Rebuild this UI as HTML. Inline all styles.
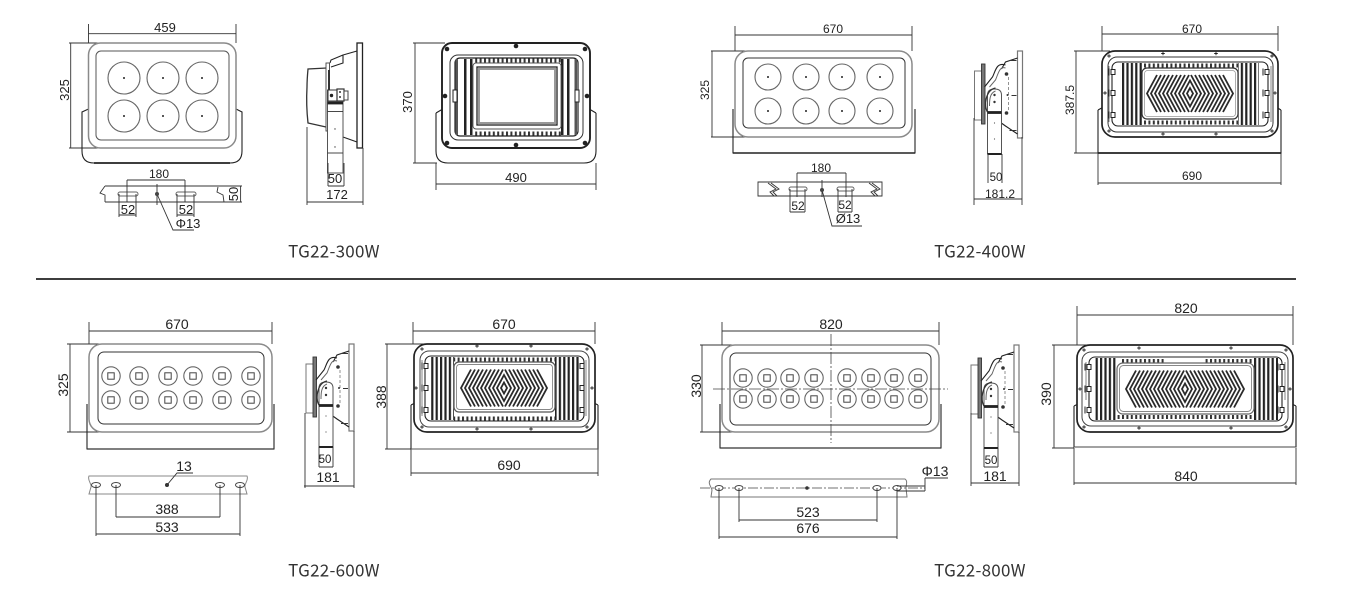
<!DOCTYPE html>
<html><head><meta charset="utf-8"><style>
html,body{margin:0;padding:0;background:#fff;width:1354px;height:608px;overflow:hidden}
svg{display:block}
text{font-family:"Liberation Sans",sans-serif;fill:#222;text-anchor:middle}
.l{font-family:"Noto Sans CJK SC","Liberation Sans",sans-serif;font-size:17px;letter-spacing:.25px;fill:#333}
.d{stroke:#333;stroke-width:.9;fill:none}
.g{stroke:#8a8a8a;stroke-width:1.5;fill:none}
.k{stroke:#222;stroke-width:1.1;fill:none}
.b{stroke:#222;stroke-width:1.9;fill:none}
.c{stroke:#666;stroke-width:1.1;fill:#fff}
.w{stroke:#555;stroke-width:1;fill:#fff}
.s13{font-size:13px}.s14{font-size:14px}.s12{font-size:12px}.s11{font-size:11.5px}
</style></head><body>
<svg width="1354" height="608" viewBox="0 0 1354 608" xmlns="http://www.w3.org/2000/svg">
<defs>
<pattern id="fin" width="4.4" height="10" patternUnits="userSpaceOnUse"><rect width="2.2" height="10" fill="#222"/></pattern>
<pattern id="tick" width="4.4" height="10" patternUnits="userSpaceOnUse"><rect width="2" height="10" fill="#333"/></pattern>
<g id="chv" fill="none" stroke="#2a2a2a" stroke-width="1.800">
<path d="M0-5.500L3 0 0 5.500-3 0Z M0-13L7 0 0 13-7 0Z"/>
<path d="M1-18.500L11 0 1 18.500M5-18.500L15 0 5 18.500M9-18.500L19 0 9 18.500M13-18.500L23 0 13 18.500M17-18.500L27 0 17 18.500M21-18.500L31 0 21 18.500M25-18.500L35 0 25 18.500M29-18.500L39 0 29 18.500M33-18.500L43 0 33 18.500"/>
<path d="M-1-18.500L-11 0-1 18.500M-5-18.500L-15 0-5 18.500M-9-18.500L-19 0-9 18.500M-13-18.500L-23 0-13 18.500M-17-18.500L-27 0-17 18.500M-21-18.500L-31 0-21 18.500M-25-18.500L-35 0-25 18.500M-29-18.500L-39 0-29 18.500M-33-18.500L-43 0-33 18.500"/>
</g>
<g id="chx" fill="none" stroke="#2a2a2a" stroke-width="1.800">
<path d="M37-18.500L47 0 37 18.500M41-18.500L51 0 41 18.500M45-18.500L55 0 45 18.500M49-18.500L59 0 49 18.500M-37-18.500L-47 0-37 18.500M-41-18.500L-51 0-41 18.500M-45-18.500L-55 0-45 18.500M-49-18.500L-59 0-49 18.500"/>
</g>
<g id="dot"><circle r="1" fill="#222"/></g>
<g id="pl"><path d="M-1.800 0H1.800M0-1.800V1.800" stroke="#222" stroke-width=".9"/></g>
<g id="sq"><rect x="-2" y="-2.500" width="4" height="5" fill="#fff" stroke="#222" stroke-width="1"/><path d="M-4-3.500V3.500" stroke="#222" stroke-width="1"/></g>
<g id="cs"><circle r="9.200" class="c"/><rect x="-3.200" y="-3.200" width="6.400" height="6.400" fill="#fff" stroke="#444" stroke-width="1"/></g>
<g id="side">
<rect x="0" y="0" width="5" height="87" fill="#fff" stroke="#777" stroke-width="1.200"/>
<path class="k" d="M0 7L-12 11-16 18M0 83L-12 75-19 70"/>
<path d="M-9 26V60" stroke="#777" stroke-width=".8" stroke-dasharray="3 2" fill="none"/>
<path class="d" d="M-1 9.500H-8M-1 79.500H-8M-1 44.500H-6"/>
<circle cx="-11" cy="23" r="1.800" fill="#333"/><circle cx="-11" cy="62" r="1.800" fill="#333"/><circle cx="-10" cy="44" r="1" fill="#333"/>
<path d="M-36 20H-43V69H-36" fill="#fff" stroke="#777" stroke-width="1"/>
<rect x="-36" y="13" width="3.500" height="60" fill="#777" stroke="#333" stroke-width=".9"/>
<path d="M-12 14C-21 11-22 20-25 26L-33 36" class="k"/>
<path d="M-12 17C-18 15-19 22-22 29L-28 36" stroke="#666" stroke-width="1" fill="none"/>
<path d="M-30 60V44Q-30 38-23 38Q-16 38-16 44V103H-30Z" fill="#fff" stroke="#555" stroke-width="1"/>
<path d="M-22 37C-32 39-34 55-30 61" stroke="#333" stroke-width="1.300" fill="none"/>
<path d="M-22 40C-28 42-28 50-28 55" stroke="#666" stroke-width="1" fill="none"/>
<path d="M-30 61.500H-16" stroke="#222" stroke-width="2.800"/>
<path d="M-30 103H-16" stroke="#222" stroke-width="2"/>
<circle cx="-23" cy="44" r="1.200" fill="#333"/><circle cx="-23" cy="51" r="1.200" fill="#333"/>
<circle cx="-23" cy="72" r=".6" fill="#555"/><circle cx="-23" cy="88" r=".6" fill="#555"/>
</g>
</defs>
<rect width="1354" height="608" fill="#fff"/>

<!-- divider -->
<path d="M36 279H1296" stroke="#222" stroke-width="1.800"/>
<text class="l" x="334" y="257.500">TG22-300W</text>
<text class="l" x="980" y="257.500">TG22-400W</text>
<text class="l" x="334" y="576.500">TG22-600W</text>
<text class="l" x="980" y="576.500">TG22-800W</text>

<!-- ===== 300W front ===== -->
<path class="d" d="M88.500 24V43M236 24V43M88.500 33.700H236M70.700 43V148M69 43H100M69 148H100"/>
<text class="s13" x="165" y="32">459</text>
<text class="s13" transform="translate(69,90) rotate(-90)">325</text>
<path d="M88.500 109L82 112V151Q82 163 94 163H230Q242 163 242 151V112L236 109" class="k"/>
<path d="M94 163H230" stroke="#222" stroke-width="1.800"/>
<rect x="88.500" y="43" width="147.500" height="105" rx="12" fill="#fff" stroke="#8a8a8a" stroke-width="1.500"/>
<rect x="96" y="51" width="133" height="89" rx="5" class="w" stroke="#333"/>
<g class="c"><circle cx="124" cy="78" r="16"/><circle cx="163" cy="78" r="16"/><circle cx="202" cy="78" r="16"/><circle cx="124" cy="116" r="16"/><circle cx="163" cy="116" r="16"/><circle cx="202" cy="116" r="16"/></g>
<use href="#dot" x="124" y="78"/><use href="#dot" x="163" y="78"/><use href="#dot" x="202" y="78"/><use href="#dot" x="124" y="116"/><use href="#dot" x="163" y="116"/><use href="#dot" x="202" y="116"/>
<!-- 300W mount -->
<path class="d" d="M105 186H242M105 202H242M240.600 186V202M105 186L100 193 105 195V202M218 187L217 192 223 195 224 202"/>
<rect x="118" y="192" width="20" height="4" rx="2" fill="#fff" stroke="#666" stroke-width="1"/>
<rect x="176" y="192" width="20" height="4" rx="2" fill="#fff" stroke="#666" stroke-width="1"/>
<path class="d" d="M119 194V217M136 194V217M119 215H136M177 194V217M194 194V217M177 215H194M127 180V202M185 180V202M127 180H185M157 184V205M157 194L173 230H194"/>
<circle cx="157" cy="194" r="2" fill="#444"/>
<text class="s12" x="159" y="178">180</text>
<text class="s13" x="128" y="214">52</text><text class="s13" x="186" y="214">52</text>
<text class="s13" transform="translate(238,194) rotate(-90)">50</text>
<text class="s13" x="188" y="228">Φ13</text>
<!-- 300W side -->
<rect x="357" y="43" width="5.500" height="105" fill="#fff" stroke="#222" stroke-width="1.300"/>
<path class="k" d="M357 51L343 55V63L331 67M343 55L331 60 330 63M357 142L343 137V130"/>
<path d="M327 68L308 69Q307 80 307 87Q306 105 308 123L326 127" fill="#fff" stroke="#333" stroke-width="1.300"/>
<rect x="326" y="63" width="3.500" height="68" fill="#fff" stroke="#444" stroke-width=".9"/>
<rect x="328" y="70" width="2" height="26" fill="#333"/>
<rect x="327.500" y="90" width="15.500" height="83" fill="#fff" stroke="#555" stroke-width="1"/>
<path d="M327.500 103H343" stroke="#222" stroke-width="2.800"/>
<path d="M327.500 111.500H343" stroke="#333" stroke-width=".9"/>
<path d="M327.500 153H343" stroke="#333" stroke-width=".9"/>
<rect x="328" y="90" width="11" height="11" fill="#fff" stroke="#333" stroke-width="1"/><circle cx="331.500" cy="95.500" r="1.700" fill="#222"/>
<rect x="337" y="89" width="7" height="12" fill="#fff" stroke="#333" stroke-width="1.200"/><circle cx="340" cy="92" r="1" fill="#333"/><circle cx="340" cy="97" r="1" fill="#333"/>
<rect x="344" y="91" width="4" height="9" fill="#fff" stroke="#444" stroke-width="1"/>
<circle cx="335" cy="129" r=".7" fill="#444"/><circle cx="335" cy="147" r=".7" fill="#444"/>
<path class="d" d="M328 163V186M344 163V186M328 186H344M307 127V205M363 148V205M307 202H363"/>
<text class="s13" x="335" y="183">50</text><text class="s13" x="337" y="199">172</text>
<!-- 300W back -->
<path class="d" d="M415 43V163M413 43H445M413 163H437M436 163V190M596 163V190M436 184H596"/>
<text class="s13" transform="translate(412,102) rotate(-90)">370</text>
<text class="s13" x="516" y="182">490</text>
<path d="M436 113L453 103M596 113L579 103" class="k"/>
<path d="M436 113V151Q436 163 448 163H584Q596 163 596 151V113" class="k"/>
<rect x="442" y="43" width="148" height="105" rx="10" fill="#fff" stroke="#222" stroke-width="1.900"/>
<rect x="450" y="55" width="133" height="85" rx="8" fill="#fff" stroke="#333" stroke-width="1"/>
<rect x="455" y="58" width="123" height="78" rx="5" fill="#fff" stroke="#222" stroke-width="1.200"/>
<rect x="455.500" y="59" width="2.500" height="76" fill="#555"/><rect x="574.500" y="59" width="2.500" height="76" fill="#555"/>
<rect x="464" y="59" width="2.500" height="76" fill="#222"/><rect x="470" y="59" width="2.500" height="76" fill="#222"/>
<rect x="561" y="59" width="2.500" height="76" fill="#222"/><rect x="567" y="59" width="2.500" height="76" fill="#222"/>
<rect x="473" y="58.500" width="88" height="4" fill="url(#tick)"/><rect x="473" y="131.500" width="88" height="4" fill="url(#tick)"/>
<rect x="473" y="63" width="88" height="66" rx="3" fill="#fff" stroke="#555" stroke-width=".9"/>
<rect x="477" y="67" width="80" height="58" fill="#fff" stroke="#222" stroke-width="1.300"/>
<rect x="479" y="69" width="76" height="54" fill="none" stroke="#999" stroke-width="2"/>
<g fill="#222"><circle cx="447" cy="49" r="2.300"/><circle cx="516" cy="46" r="2.300"/><circle cx="585" cy="49" r="2.300"/><circle cx="445" cy="96" r="2.300"/><circle cx="587" cy="96" r="2.300"/><circle cx="447" cy="143" r="2.300"/><circle cx="516" cy="145" r="2.300"/><circle cx="585" cy="143" r="2.300"/></g>
<rect x="453" y="90" width="4" height="12" fill="#fff" stroke="#222" stroke-width="1"/><rect x="575" y="90" width="4" height="12" fill="#fff" stroke="#222" stroke-width="1"/>

<!-- ===== 400W front ===== -->
<path class="d" d="M735 26V51M912 26V51M735 35H912M712 51V137M711 51H745M711 137H745"/>
<text class="s12" x="833" y="33">670</text>
<text class="s12" transform="translate(709,90) rotate(-90)">325</text>
<path d="M733 109V153H915V109" class="k"/><path d="M733 153H915" stroke="#222" stroke-width="1.500"/>
<rect x="735" y="51" width="177" height="86" rx="13" fill="#fff" stroke="#8a8a8a" stroke-width="1.500"/>
<rect x="743" y="58" width="162" height="70" rx="5" fill="#fff" stroke="#333" stroke-width="1"/>
<g class="c"><circle cx="768" cy="77" r="13"/><circle cx="806" cy="77" r="13"/><circle cx="842" cy="77" r="13"/><circle cx="880" cy="77" r="13"/><circle cx="768" cy="111" r="13"/><circle cx="806" cy="111" r="13"/><circle cx="842" cy="111" r="13"/><circle cx="880" cy="111" r="13"/></g>
<use href="#dot" x="768" y="77"/><use href="#dot" x="806" y="77"/><use href="#dot" x="842" y="77"/><use href="#dot" x="880" y="77"/><use href="#dot" x="768" y="111"/><use href="#dot" x="806" y="111"/><use href="#dot" x="842" y="111"/><use href="#dot" x="880" y="111"/>
<!-- 400W mount -->
<path class="d" d="M758 182H882V196H758ZM768 183L776 189 770 192 774 196M771 183L779 189 773 192 777 196M869 183L877 189 871 192 875 196M872 183L880 189 874 192 878 196"/>
<rect x="789" y="187" width="18" height="4" rx="2" fill="#fff" stroke="#666" stroke-width="1"/>
<rect x="837" y="187" width="17" height="4" rx="2" fill="#fff" stroke="#666" stroke-width="1"/>
<path class="d" d="M790 189V212M805 189V212M790 212H805M838 189V212M852 189V212M838 212H852M797 173V197M846 173V197M797 173H846M822 180V197M822 190L832 226H862"/>
<circle cx="822" cy="190" r="2" fill="#444"/>
<text class="s12" x="821" y="172">180</text><text class="s12" x="798" y="210">52</text><text class="s12" x="845" y="209">52</text>
<text class="s13" x="848" y="223">Ø13</text>
<!-- 400W side -->
<use href="#side" transform="translate(1017.500,51)"/>
<path class="d" d="M988 154V183M1002 154V183M974 118V205M1022 137V205M974 199H1022"/>
<text class="s11" x="996" y="181">50</text><text class="s12" x="1000" y="198">181.2</text>
<!-- 400W back -->
<path class="d" d="M1102 26V51M1278 26V51M1102 34H1278M1076 51V153M1074 51H1110M1074 153H1098M1098 153V185M1281 153V185M1098 183H1281"/>
<text class="s12" x="1192" y="33">670</text><text class="s12" x="1192" y="180">690</text>
<text class="s12" transform="translate(1074,100) rotate(-90)">387.5</text>
<path d="M1098 110V153H1281V110" class="k"/><path d="M1109 104L1098 110M1271 104L1281 110" class="k"/>
<path d="M1098 153H1281" stroke="#222" stroke-width="1.800"/>
<rect x="1102" y="51" width="176" height="86" rx="13" fill="#fff" stroke="#222" stroke-width="1.700"/>
<rect x="1108" y="57" width="165" height="75" rx="9" fill="#fff" stroke="#333" stroke-width="1"/>
<rect x="1112" y="62" width="156" height="64" rx="6" fill="#fff" stroke="#222" stroke-width="1.100"/>
<rect x="1120" y="63" width="22" height="62" fill="url(#fin)"/><rect x="1238" y="63" width="21" height="62" fill="url(#fin)"/>
<rect x="1142" y="63.500" width="96" height="4" fill="url(#tick)"/><rect x="1142" y="120.500" width="96" height="4" fill="url(#tick)"/>
<rect x="1142" y="68" width="96" height="51" rx="5" fill="#fff" stroke="#333" stroke-width="1.200"/>
<rect x="1144.500" y="70.500" width="91" height="46" rx="3" fill="#fff" stroke="#999" stroke-width=".8"/>
<use href="#chv" transform="translate(1190,93.500)"/>
<path d="M1109 66V122M1271 66V122" stroke="#666" stroke-width=".8"/>
<use href="#sq" x="1113" y="72"/><use href="#sq" x="1113" y="93"/><use href="#sq" x="1113" y="115"/><use href="#sq" x="1267" y="72"/><use href="#sq" x="1267" y="93"/><use href="#sq" x="1267" y="115"/>
<use href="#pl" x="1109" y="56"/><use href="#pl" x="1163" y="53.500"/><use href="#pl" x="1216" y="53.500"/><use href="#pl" x="1272" y="56"/><use href="#pl" x="1109" y="131"/><use href="#pl" x="1163" y="134"/><use href="#pl" x="1216" y="134"/><use href="#pl" x="1272" y="131"/><use href="#pl" x="1105" y="93"/><use href="#pl" x="1275" y="93"/>

<!-- ===== 600W front ===== -->
<path class="d" d="M89 322V344M272 322V344M89 331H272M70 344V432M67 344H100M67 432H100"/>
<text class="s14" x="177" y="329">670</text>
<text class="s14" transform="translate(68,385) rotate(-90)">325</text>
<path d="M87 404V449H274V404" class="k"/>
<path d="M87 449H274" stroke="#333" stroke-width="1.300"/>
<rect x="89" y="344" width="183" height="88" rx="13" fill="#fff" stroke="#8a8a8a" stroke-width="1.500"/>
<rect x="98" y="352" width="166" height="72" rx="6" fill="#fff" stroke="#333" stroke-width="1"/>
<use href="#cs" x="111" y="376"/><use href="#cs" x="139" y="376"/><use href="#cs" x="168" y="376"/><use href="#cs" x="193" y="376"/><use href="#cs" x="222" y="376"/><use href="#cs" x="251" y="376"/>
<use href="#cs" x="111" y="400"/><use href="#cs" x="139" y="400"/><use href="#cs" x="168" y="400"/><use href="#cs" x="193" y="400"/><use href="#cs" x="222" y="400"/><use href="#cs" x="251" y="400"/>
<!-- 600W mount -->
<path d="M89 476H247C249 480 244 484 245 487L247 494H89L91 487C92 484 87 480 89 476Z" fill="#fff" stroke="#888" stroke-width="1"/>
<ellipse cx="96" cy="485" rx="4.500" ry="2.500" fill="#fff" stroke="#444" stroke-width="1"/><ellipse cx="116" cy="485" rx="4.500" ry="2.500" fill="#fff" stroke="#444" stroke-width="1"/><ellipse cx="220" cy="485" rx="4.500" ry="2.500" fill="#fff" stroke="#444" stroke-width="1"/><ellipse cx="240" cy="485" rx="4.500" ry="2.500" fill="#fff" stroke="#444" stroke-width="1"/>
<path class="d" d="M96 485V536M240 485V536M96 534H240M116 485V517M220 485V517M116 517H220M167 485L177 473H193"/>
<circle cx="167" cy="485" r="2" fill="#333"/>
<text class="s14" x="184" y="471">13</text><text class="s14" x="167" y="514">388</text><text class="s14" x="167" y="532">533</text>
<!-- 600W side -->
<use href="#side" transform="translate(349,344)"/>
<path class="d" d="M319 447V467M333 447V467M319 467H333M305 413V488M354 431V488M304 486H354"/>
<text class="s11" x="325" y="463">50</text><text class="s14" x="328" y="482">181</text>
<!-- 600W back -->
<path class="d" d="M413 322V344M595 322V344M413 331H595M387 344V449M385 344H425M385 449H411M411 449V476M598 449V476M411 473H598"/>
<text class="s14" x="504" y="329">670</text><text class="s14" x="509" y="470">690</text>
<text class="s14" transform="translate(386,397) rotate(-90)">388</text>
<path d="M411 405V449H598V405M421 400L411 405M588 400L598 405" class="k" stroke="#555"/>
<path d="M411 449H598" stroke="#555" stroke-width="1"/>
<rect x="414" y="344" width="181" height="88" rx="13" fill="#fff" stroke="#222" stroke-width="1.700"/>
<rect x="420" y="351" width="169" height="76" rx="9" fill="#fff" stroke="#444" stroke-width="1"/>
<rect x="425" y="356" width="159" height="65" rx="6" fill="#fff" stroke="#222" stroke-width="1.100"/>
<rect x="431" y="357" width="23" height="63" fill="url(#fin)"/><rect x="555" y="357" width="24" height="63" fill="url(#fin)"/>
<rect x="454" y="357.500" width="101" height="4" fill="url(#tick)"/><rect x="454" y="416.500" width="101" height="4" fill="url(#tick)"/>
<rect x="454" y="362" width="101" height="50" rx="5" fill="#fff" stroke="#555" stroke-width="1.200"/>
<rect x="456.500" y="364.500" width="96" height="45" rx="3" fill="#fff" stroke="#888" stroke-width=".9"/>
<use href="#chv" transform="translate(504,388)"/>
<path d="M422 360V416M586 360V416" stroke="#666" stroke-width=".8"/>
<use href="#sq" x="426" y="366"/><use href="#sq" x="426" y="388"/><use href="#sq" x="426" y="410"/><use href="#sq" x="582" y="366"/><use href="#sq" x="582" y="388"/><use href="#sq" x="582" y="410"/>
<use href="#pl" x="422" y="349"/><use href="#pl" x="477" y="346"/><use href="#pl" x="531" y="346"/><use href="#pl" x="587" y="349"/><use href="#pl" x="422" y="427"/><use href="#pl" x="477" y="429"/><use href="#pl" x="531" y="429"/><use href="#pl" x="587" y="427"/><use href="#pl" x="416" y="388"/><use href="#pl" x="592" y="388"/>

<!-- ===== 800W front ===== -->
<path class="d" d="M722 322V345M939 322V345M722 331H939M702 345V432M700 345H735M700 432H735"/>
<text class="s14" x="831" y="329">820</text>
<text class="s14" transform="translate(701,386) rotate(-90)">330</text>
<path d="M720 404V448H941V404" class="k"/><path d="M720 448H941" stroke="#333" stroke-width="1.200"/>
<rect x="722" y="345" width="217" height="87" rx="13" fill="#fff" stroke="#8a8a8a" stroke-width="1.500"/>
<rect x="730" y="353" width="201" height="72" rx="6" fill="#fff" stroke="#333" stroke-width="1"/>
<use href="#cs" x="743" y="378"/><use href="#cs" x="767" y="378"/><use href="#cs" x="790" y="378"/><use href="#cs" x="814" y="378"/><use href="#cs" x="847" y="378"/><use href="#cs" x="871" y="378"/><use href="#cs" x="894" y="378"/><use href="#cs" x="918" y="378"/>
<use href="#cs" x="743" y="399"/><use href="#cs" x="767" y="399"/><use href="#cs" x="790" y="399"/><use href="#cs" x="814" y="399"/><use href="#cs" x="847" y="399"/><use href="#cs" x="871" y="399"/><use href="#cs" x="894" y="399"/><use href="#cs" x="918" y="399"/>
<path d="M831 334V443M713 389H948" stroke="#444" stroke-width=".8" fill="none" stroke-dasharray="12 2 2 2"/>
<!-- 800W mount -->
<path d="M711 479H905C908 481 906 485 906 488L907 497H711L712 490C711 486 707 483 711 479Z" fill="#fff" stroke="#777" stroke-width="1"/>
<path d="M700 488H925" stroke="#444" stroke-width=".8" stroke-dasharray="10 2 2 2" fill="none"/>
<ellipse cx="719" cy="488" rx="4" ry="2.500" fill="#fff" stroke="#444" stroke-width="1"/><ellipse cx="739" cy="488" rx="4" ry="2.500" fill="#fff" stroke="#444" stroke-width="1"/><ellipse cx="877" cy="488" rx="4" ry="2.500" fill="#fff" stroke="#444" stroke-width="1"/><ellipse cx="897" cy="488" rx="4" ry="2.500" fill="#fff" stroke="#444" stroke-width="1"/>
<circle cx="807" cy="488" r="1.800" fill="#333"/>
<path class="d" d="M719 488V539M897 488V539M719 537H897M739 488V522M877 488V522M739 520H877M925 478H948M925 478V491M897 486H925M897 491H925"/>
<text class="s14" x="935" y="476">Φ13</text><text class="s14" x="808" y="517">523</text><text class="s14" x="808" y="533">676</text>
<!-- 800W side -->
<use href="#side" transform="translate(1014,345)"/>
<path class="d" d="M984 448V467M998 448V467M984 467H998M971 413V486M1019 432V486M971 483H1019"/>
<text class="s11" x="991" y="464">50</text><text class="s14" x="995" y="481">181</text>
<!-- 800W back -->
<path class="d" d="M1077 306V345M1293 306V345M1077 315H1293M1054 345V448M1052 345H1090M1052 448H1074M1074 448V485M1296 448V485M1074 483H1296"/>
<text class="s14" x="1186" y="313">820</text><text class="s14" x="1186" y="481">840</text>
<text class="s14" transform="translate(1051,394) rotate(-90)">390</text>
<path d="M1074 406V447H1296V406M1086 400L1074 406M1284 400L1296 406" class="k" stroke="#444"/>
<path d="M1074 447H1296" stroke="#444" stroke-width="1.100"/>
<rect x="1077" y="345" width="216" height="87" rx="13" fill="#fff" stroke="#222" stroke-width="1.700"/>
<rect x="1082" y="352" width="206" height="74" rx="9" fill="#fff" stroke="#444" stroke-width="1"/>
<rect x="1089" y="357" width="193" height="64" rx="6" fill="#fff" stroke="#222" stroke-width="1.100"/>
<rect x="1095" y="358" width="22" height="62" fill="url(#fin)"/><rect x="1254" y="358" width="24" height="62" fill="url(#fin)"/>
<rect x="1122" y="359" width="44" height="4" fill="url(#tick)"/><rect x="1205" y="359" width="48" height="4" fill="url(#tick)"/>
<rect x="1117" y="415" width="137" height="4" fill="url(#tick)"/>
<rect x="1117" y="363" width="137" height="51" rx="6" fill="#fff" stroke="#666" stroke-width="1.200"/>
<rect x="1119.500" y="365.500" width="132" height="46" rx="4" fill="#fff" stroke="#888" stroke-width=".9"/>
<use href="#chv" transform="translate(1185,389)"/><use href="#chx" transform="translate(1185,389)"/>
<path d="M1086 362V400M1285 362V400" stroke="#666" stroke-width=".8"/>
<use href="#sq" x="1089" y="367"/><use href="#sq" x="1089" y="389"/><use href="#sq" x="1089" y="410"/><use href="#sq" x="1282" y="367"/><use href="#sq" x="1282" y="389"/><use href="#sq" x="1282" y="410"/>
<use href="#pl" x="1084" y="350"/><use href="#pl" x="1139" y="348"/><use href="#pl" x="1231" y="348"/><use href="#pl" x="1286" y="350"/><use href="#pl" x="1084" y="427"/><use href="#pl" x="1139" y="428"/><use href="#pl" x="1231" y="428"/><use href="#pl" x="1286" y="427"/><use href="#pl" x="1080" y="389"/><use href="#pl" x="1290" y="389"/>
</svg>
</body></html>
